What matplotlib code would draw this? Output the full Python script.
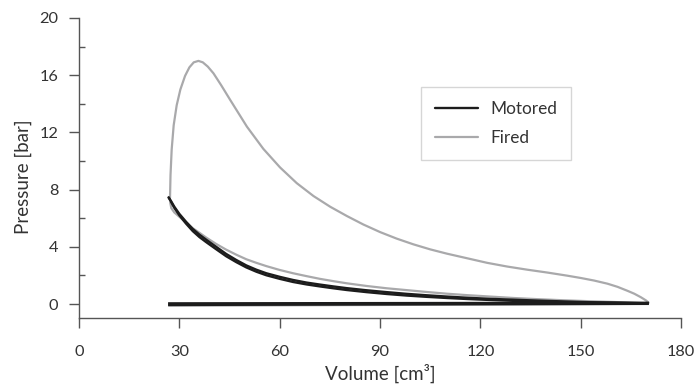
import matplotlib
matplotlib.use("Agg")
import matplotlib.pyplot as plt

plt.rcParams['font.family'] = ['Lato', 'DejaVu Sans']

# motored cycle, compression and expansion branches
motored_v = [26.8, 27.5, 28.5, 30, 32, 34, 36, 38, 41, 44, 47, 50, 53, 56, 60, 64, 68, 72, 76, 80,
             86, 92, 98, 104, 110, 116, 123, 130, 137, 145, 152, 160, 165, 170]
motored_comp_p = [7.45, 7.2, 6.8, 6.3, 5.75, 5.25, 4.85, 4.5, 4.0, 3.5, 3.08, 2.7, 2.4, 2.15, 1.9, 1.68,
                  1.5, 1.36, 1.23, 1.11, 0.96, 0.83, 0.71, 0.61, 0.52, 0.44, 0.36, 0.3, 0.24, 0.18,
                  0.13, 0.1, 0.07, 0.05]
motored_exp_p = [7.45, 7.15, 6.72, 6.2, 5.62, 5.1, 4.68, 4.33, 3.83, 3.34, 2.93, 2.56, 2.26, 2.01, 1.76,
                 1.54, 1.37, 1.23, 1.1, 0.98, 0.83, 0.7, 0.59, 0.5, 0.42, 0.35, 0.28, 0.22, 0.17,
                 0.12, 0.09, 0.07, 0.06, 0.05]

# fired cycle, compression branch (BDC -> TDC)
fired_comp_v = [170, 165, 160, 152, 145, 137, 130, 123, 116, 110, 104, 98, 92, 86, 80, 76, 72, 68,
                64, 60, 56, 53, 50, 47, 44, 41, 38, 36, 34, 32, 30, 28.5, 27.6, 27.25]
fired_comp_p = [0.05, 0.1, 0.14, 0.2, 0.26, 0.34, 0.42, 0.52, 0.62, 0.72, 0.84, 0.97, 1.1, 1.26, 1.45,
                1.6, 1.76, 1.95, 2.15, 2.38, 2.65, 2.88, 3.13, 3.45, 3.8, 4.2, 4.65, 4.98, 5.3, 5.7,
                6.1, 6.4, 6.7, 7.1]

# fired cycle, combustion + expansion branch
fired_exp_v = [27.2, 27.35, 27.7, 28.3, 29.2, 30.3, 31.7, 33.0, 34.3, 35.7, 37.0, 38.5, 40.2, 42.5,
               45.2, 50.2, 55.1, 60.1, 65.1, 70.1, 75.1, 80.1, 85.0, 90, 95, 100, 105, 110, 116,
               122, 128, 134, 140, 146, 150, 154, 158, 161, 164, 166, 168, 169.5, 170.3]
fired_exp_p = [7.4, 9.0, 10.8, 12.5, 13.9, 15.0, 15.95, 16.55, 16.9, 17.0, 16.9, 16.6, 16.13, 15.3,
               14.27, 12.4, 10.85, 9.55, 8.45, 7.55, 6.8, 6.15, 5.56, 5.03, 4.57, 4.17, 3.82, 3.52, 3.2,
               2.88, 2.62, 2.4, 2.2, 1.98, 1.82, 1.64, 1.42, 1.2, 0.92, 0.72, 0.47, 0.25, 0.09]

# gas exchange strokes
pump_v = [27, 170]
motored_exh_p = [0.04, 0.08]
motored_int_p = [-0.06, 0.02]
fired_int_p = [-0.12, 0.0]

x_ticks = [0, 30, 60, 90, 120, 150, 180]
y_ticks = [0, 4, 8, 12, 16, 20]
y_minor = [2, 6, 10, 14, 18]

black = '#1c1c1c'
grey = '#a9a9ab'
axis_col = '#555555'
text_col = '#333333'

fig = plt.figure(figsize=(6.95, 3.87), dpi=100)
ax = fig.add_axes([0.1137, 0.1775, 0.8663, 0.776])

kw = dict(solid_joinstyle='round', solid_capstyle='round')
ax.plot(fired_comp_v, fired_comp_p, color=grey, lw=1.6, zorder=2, **kw)
ax.plot(fired_exp_v, fired_exp_p, color=grey, lw=1.6, zorder=2, label='Fired', **kw)
ax.plot(pump_v, fired_int_p, color=grey, lw=1.6, zorder=2)

ax.plot(motored_v, motored_comp_p, color=black, lw=1.7, zorder=3, label='Motored', **kw)
ax.plot(motored_v, motored_exp_p, color=black, lw=1.7, zorder=3, **kw)
ax.plot(pump_v, motored_exh_p, color=black, lw=1.8, zorder=3)
ax.plot(pump_v, motored_int_p, color=black, lw=1.8, zorder=3)

ax.set_xlim(0, 180)
ax.set_ylim(-1, 20)
ax.set_xticks(x_ticks)
ax.set_yticks(y_ticks)
ax.set_yticks(y_minor, minor=True)

for s in ['top', 'right']:
    ax.spines[s].set_visible(False)
for s in ['left', 'bottom']:
    ax.spines[s].set_color(axis_col)
    ax.spines[s].set_linewidth(1.0)

ax.tick_params(axis='both', which='major', direction='out', length=7, width=1.0,
               color=axis_col, labelcolor=text_col, labelsize=11.8, pad=8)
ax.tick_params(axis='y', which='minor', direction='in', length=4, width=1.0, color=axis_col)
ax.tick_params(axis='x', pad=12)

ax.set_xlabel('Volume [cm³]', fontsize=13.5, color=text_col)
ax.set_ylabel('Pressure [bar]', fontsize=13.5, color=text_col)
ax.xaxis.set_label_coords(0.5, -0.152)
ax.yaxis.set_label_coords(-0.078, 0.472)

handles, labels = ax.get_legend_handles_labels()
order = [1, 0]
leg = ax.legend([handles[i] for i in order], [labels[i] for i in order],
                loc='upper left', bbox_to_anchor=(0.5676, 0.769), borderaxespad=0,
                frameon=True, fancybox=False, fontsize=12.4, handlelength=2.55,
                handletextpad=0.7, borderpad=0.8, labelspacing=0.75, labelcolor=text_col)
leg.get_frame().set_edgecolor('#cccccc')
leg.get_frame().set_linewidth(1.0)

fig.savefig('out.png', dpi=100)
